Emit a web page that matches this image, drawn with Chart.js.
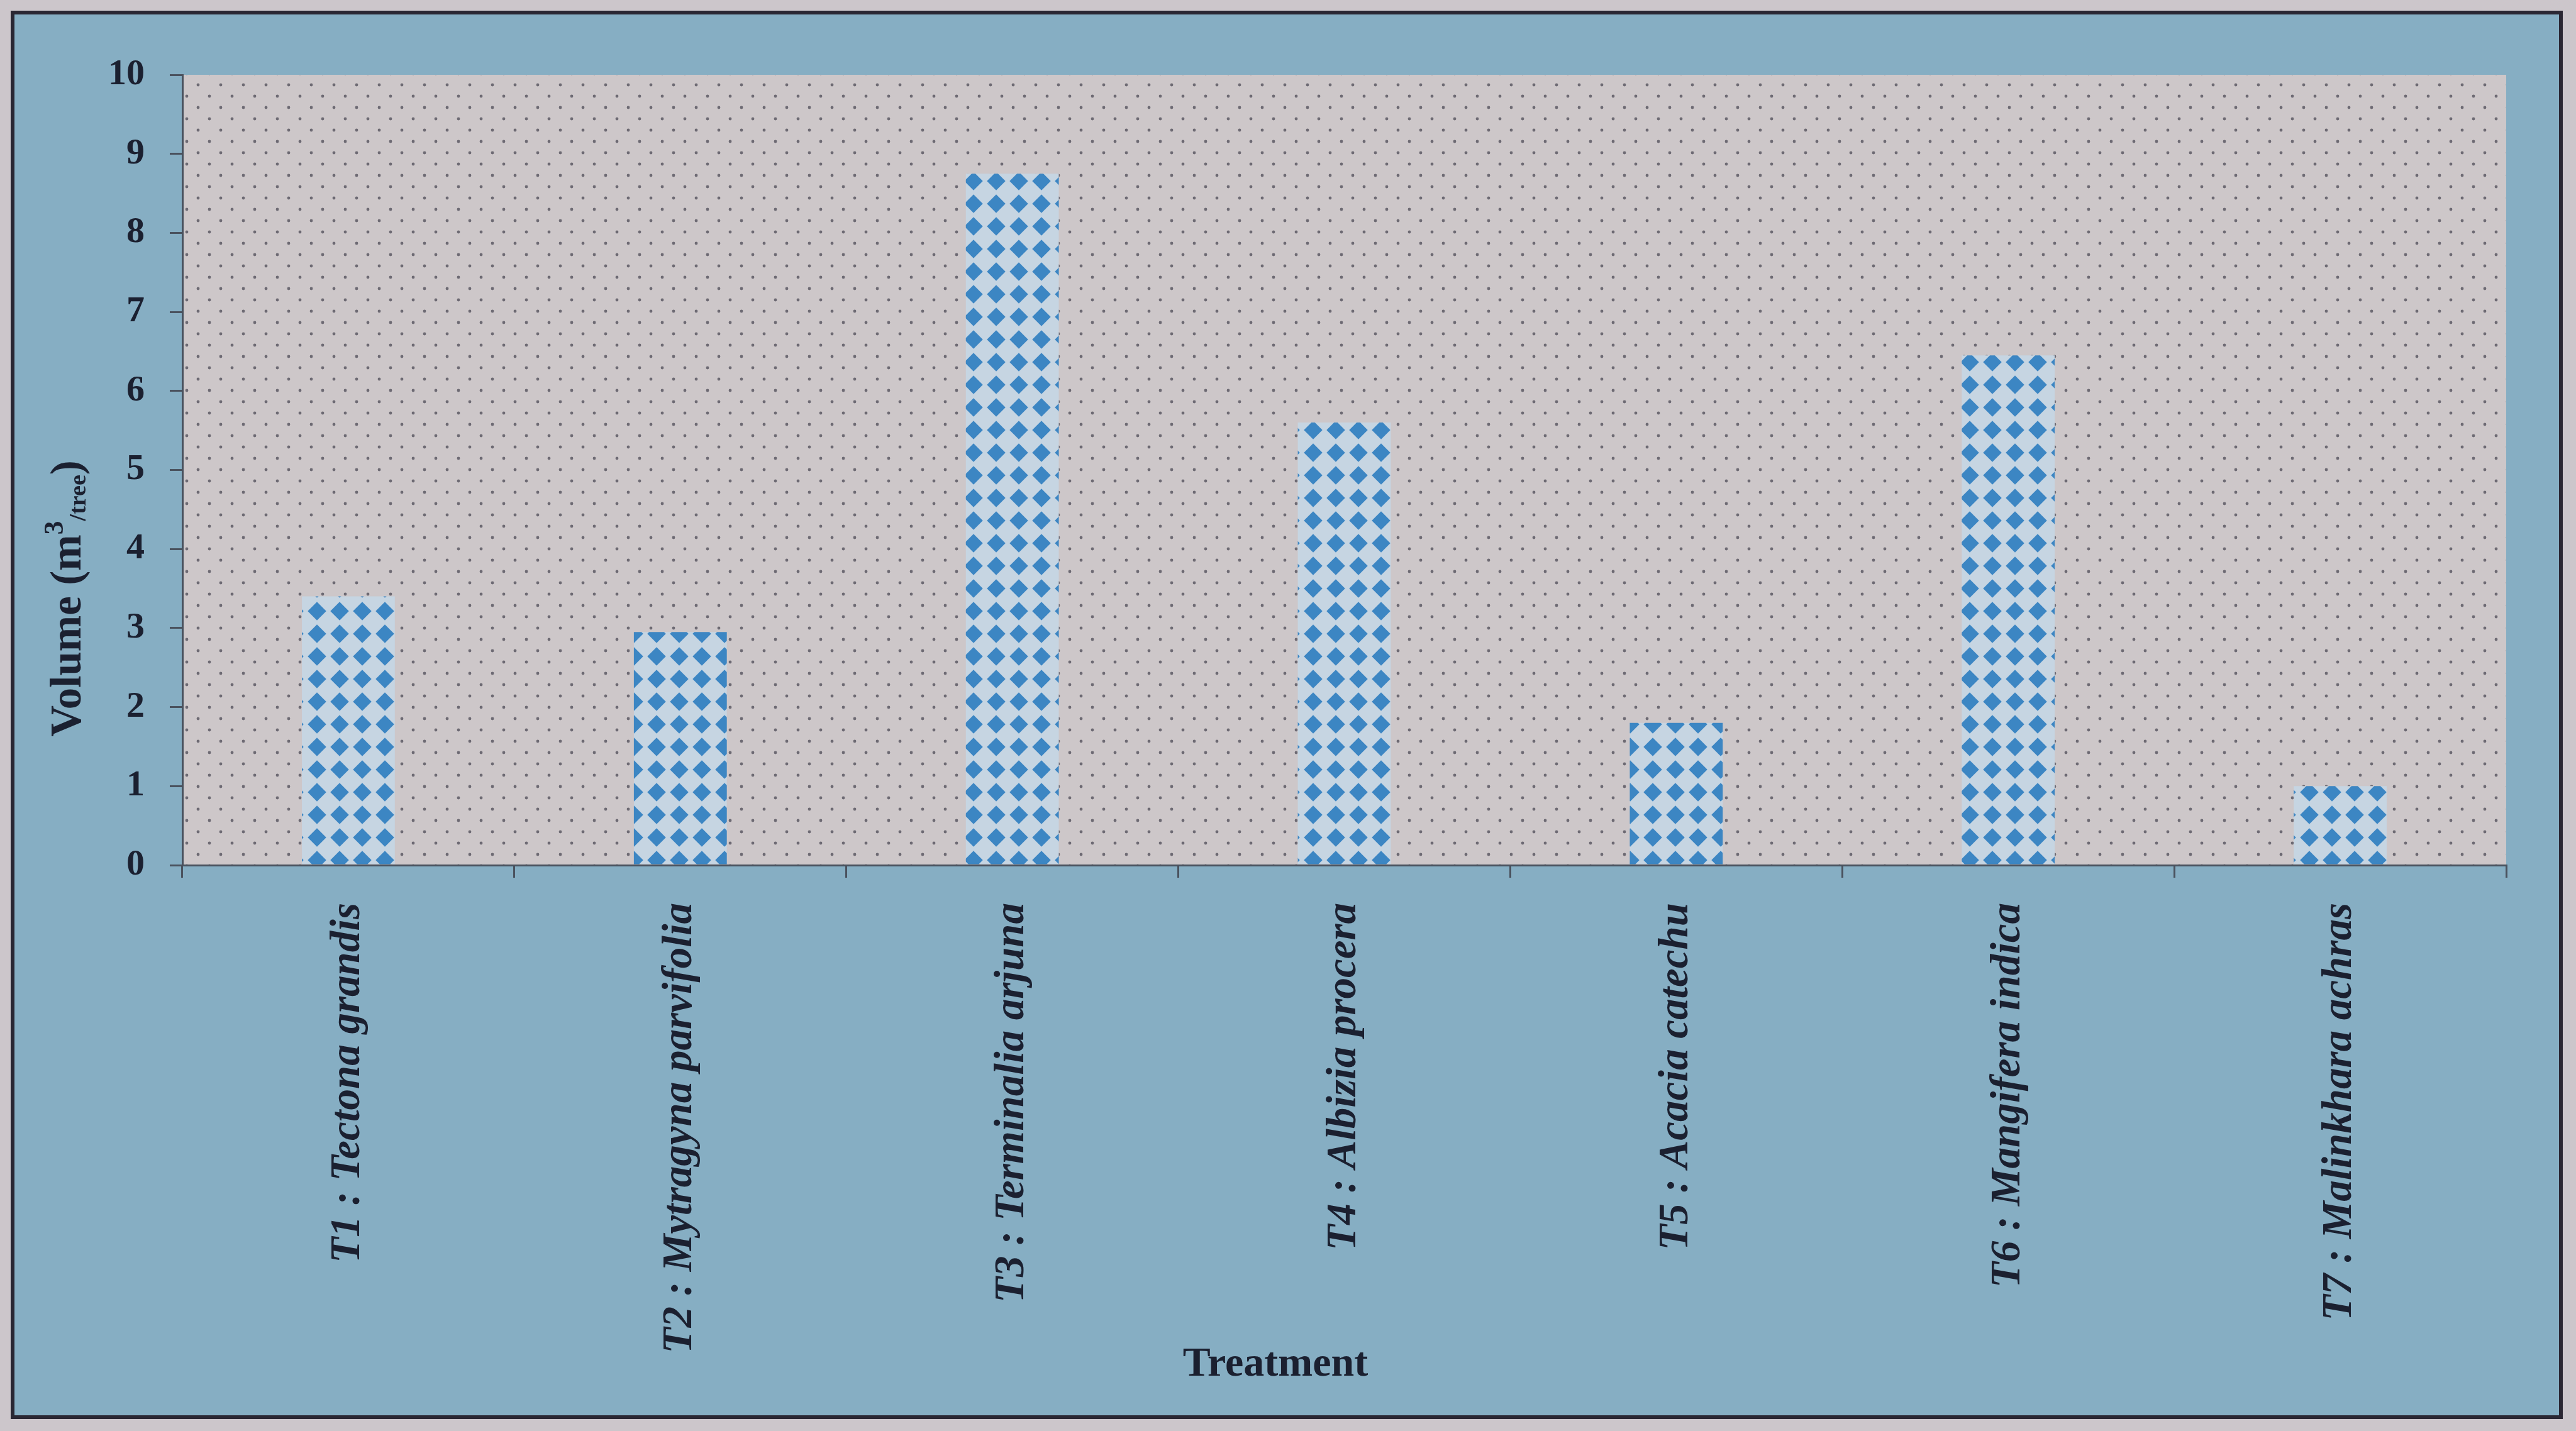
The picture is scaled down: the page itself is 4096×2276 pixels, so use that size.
<!DOCTYPE html>
<html>
<head>
<meta charset="utf-8">
<title>Volume per tree by treatment</title>
<script src="https://cdn.jsdelivr.net/npm/chart.js@4/dist/chart.umd.min.js"></script>
<style>
  html, body { margin: 0; padding: 0; background: #ccc6cb; overflow: hidden; }
  canvas { display: block; }
</style>
</head>
<body>
<canvas id="chart" width="4096" height="2276"></canvas>
<script>
// ---- data ----
const categories = [
  'T1 : Tectona grandis',
  'T2 : Mytragyna parvifolia',
  'T3 : Terminalia arjuna',
  'T4 : Albizia procera',
  'T5 : Acacia catechu',
  'T6 : Mangifera indica',
  'T7 : Malinkhara achras'
];
const volumes = [3.4, 2.95, 8.75, 5.6, 1.8, 6.45, 1.0];
const yTickLabels = ['0', '1', '2', '3', '4', '5', '6', '7', '8', '9', '10'];
const xTitle = 'Treatment';

// ---- styling ----
const W = 4096, H = 2276;
const SERIF = '"Liberation Serif", "Times New Roman", serif';
const INK = '#1b2030';
const AXIS = '#4a525e';
const PAGE = '#ccc6cb';
const PANEL = '#86aec3';
const PLOT_BG = '#cdc7c9';

// dotted fill for the plot area (staggered dots)
function dotPattern(ctx) {
  const t = document.createElement('canvas');
  t.width = 36; t.height = 36;
  const c = t.getContext('2d');
  c.fillStyle = PLOT_BG;
  c.fillRect(0, 0, 36, 36);
  c.fillStyle = '#6d6a73';
  [[9, 9], [27, 27]].forEach(([x, y]) => {
    c.beginPath(); c.arc(x, y, 2.4, 0, Math.PI * 2); c.fill();
  });
  return ctx.createPattern(t, 'repeat');
}

// blue diamond checker fill for the bars
function diamondPattern(ctx) {
  const P = 36, h = P * 0.41;
  const t = document.createElement('canvas');
  t.width = P; t.height = P;
  const c = t.getContext('2d');
  c.fillStyle = '#c6d5e2';
  c.fillRect(0, 0, P, P);
  c.fillStyle = '#3c86c3';
  [[0, 0], [P, 0], [0, P], [P, P]].forEach(([x, y]) => {
    c.beginPath();
    c.moveTo(x, y - h); c.lineTo(x + h, y); c.lineTo(x, y + h); c.lineTo(x - h, y);
    c.closePath(); c.fill();
  });
  return ctx.createPattern(t, 'repeat');
}

const canvas = document.getElementById('chart');
const ctx2d = canvas.getContext('2d');
const plotFill = dotPattern(ctx2d);
const barFill = diamondPattern(ctx2d);

// page, framed panel and dotted plot area
const backdrop = {
  id: 'backdrop',
  beforeDraw(chart) {
    const { ctx, chartArea: a } = chart;
    ctx.save();
    ctx.fillStyle = PAGE;
    ctx.fillRect(0, 0, W, H);
    ctx.fillStyle = PANEL;
    ctx.fillRect(20, 20, 4052, 2234);
    ctx.lineWidth = 6;
    ctx.strokeStyle = '#2a2733';
    ctx.strokeRect(20, 20, 4052, 2234);
    ctx.fillStyle = plotFill;
    ctx.fillRect(a.left, a.top, a.right - a.left, a.bottom - a.top);
    ctx.restore();
  }
};

// axis titles (the y title carries a superscript and subscript)
const axisTitles = {
  id: 'axisTitles',
  afterDraw(chart) {
    const { ctx } = chart;
    ctx.save();
    ctx.fillStyle = INK;
    ctx.textBaseline = 'alphabetic';

    // x title
    ctx.font = `bold 66px ${SERIF}`;
    ctx.textAlign = 'center';
    ctx.fillText(xTitle, 2028, 2188);

    // y title
    const parts = [
      { t: 'Volume (m', size: 69, dy: 0 },
      { t: '3', size: 44, dy: -28 },
      { t: '/tree', size: 38, dy: 8 },
      { t: ')', size: 69, dy: 0 }
    ];
    ctx.textAlign = 'left';
    let total = 0;
    parts.forEach(p => {
      ctx.font = `bold ${p.size}px ${SERIF}`;
      p.w = ctx.measureText(p.t).width;
      total += p.w;
    });
    ctx.translate(128, 952);
    ctx.rotate(-Math.PI / 2);
    let x = -total / 2;
    parts.forEach(p => {
      ctx.font = `bold ${p.size}px ${SERIF}`;
      ctx.fillText(p.t, x, p.dy);
      x += p.w;
    });
    ctx.restore();
  }
};

new Chart(canvas, {
  type: 'bar',
  data: {
    labels: categories,
    datasets: [{
      data: volumes,
      backgroundColor: barFill,
      borderWidth: 0,
      barPercentage: 0.28,
      categoryPercentage: 1
    }]
  },
  options: {
    responsive: false,
    animation: false,
    devicePixelRatio: 1,
    layout: { padding: { top: 119, right: 111, left: 0, bottom: 0 } },
    plugins: { legend: { display: false }, tooltip: { enabled: false } },
    scales: {
      x: {
        grid: { offset: true, drawOnChartArea: false, drawTicks: true, tickLength: 20, color: AXIS, lineWidth: 3 },
        border: { display: true, color: AXIS, width: 3 },
        ticks: {
          autoSkip: false, maxRotation: 90, minRotation: 90, padding: 40, color: INK,
          font: { family: SERIF, size: 67, weight: 'bold', style: 'italic' }
        },
        afterFit(scale) { scale.height = 900; }
      },
      y: {
        min: 0, max: 10,
        grid: { drawOnChartArea: false, drawTicks: true, tickLength: 20, color: AXIS, lineWidth: 3 },
        border: { display: true, color: AXIS, width: 3 },
        ticks: {
          stepSize: 1, padding: 40, color: INK,
          font: { family: SERIF, size: 58, weight: 'bold' },
          callback: (v, i) => yTickLabels[i]
        },
        afterFit(scale) { scale.width = 290; }
      }
    }
  },
  plugins: [backdrop, axisTitles]
});
</script>
</body>
</html>
